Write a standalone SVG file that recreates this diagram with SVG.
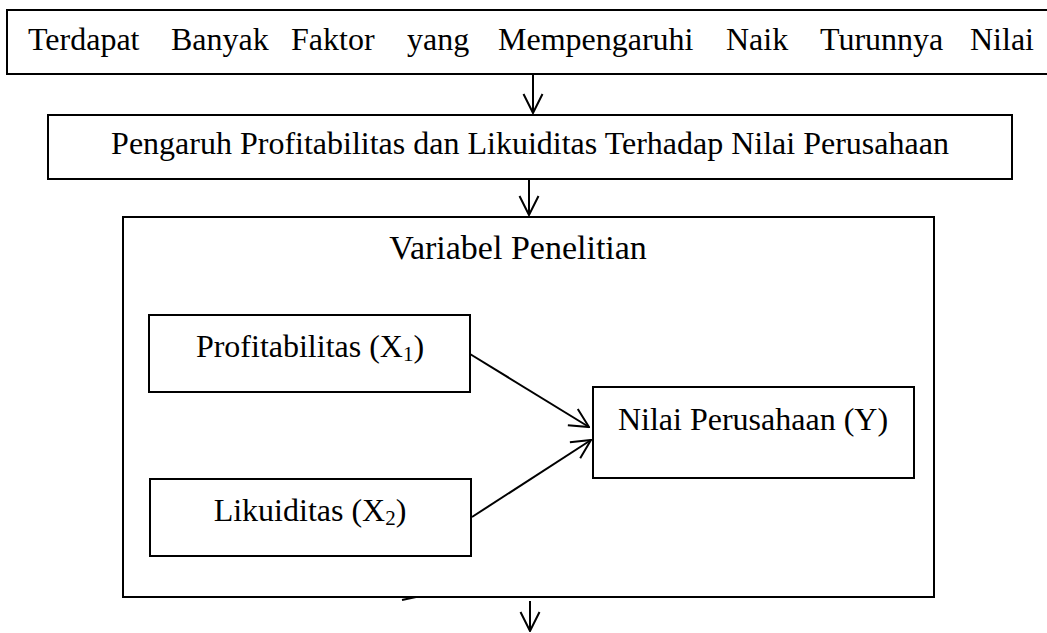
<svg xmlns="http://www.w3.org/2000/svg" width="1047" height="633" viewBox="0 0 1047 633">
<style>
.box{fill:#fff;stroke:#000;stroke-width:2}
.t{font-family:"Liberation Serif","Times New Roman",serif;font-size:32px;fill:#000}
.sub{font-size:21px}
.c{fill:none;stroke:#000;stroke-width:2}
</style>
<defs>
<marker id="arr" viewBox="0 0 22 22" refX="21" refY="11" markerWidth="22" markerHeight="22" markerUnits="userSpaceOnUse" orient="auto">
<path d="M2,1.5 L21,11 L2,20.5" fill="none" stroke="#000" stroke-width="2"/>
</marker>
</defs>
<rect width="1047" height="633" fill="#fff"/>
<g id="node-top">
<rect class="box" x="7" y="10" width="1060" height="64"/>
<text class="t" y="50"><tspan x="28">Terdapat</tspan><tspan x="171">Banyak</tspan><tspan x="291">Faktor</tspan><tspan x="407">yang</tspan><tspan x="498">Mempengaruhi</tspan><tspan x="726">Naik</tspan><tspan x="820">Turunnya</tspan><tspan x="970">Nilai</tspan></text>
</g>
<g id="node-pengaruh">
<rect class="box" x="48" y="115" width="964" height="64"/>
<text class="t" x="530" y="154" text-anchor="middle">Pengaruh Profitabilitas dan Likuiditas Terhadap Nilai Perusahaan</text>
</g>
<g id="node-variabel">
<rect class="box" x="123" y="217" width="811" height="380"/>
<text class="t" x="518" y="259" text-anchor="middle" style="font-size:34px">Variabel Penelitian</text>
</g>
<g id="node-x1">
<rect class="box" x="149" y="315" width="321" height="77"/>
<text class="t" x="310" y="357" text-anchor="middle">Profitabilitas (X<tspan class="sub" dy="4">1</tspan><tspan dy="-4">)</tspan></text>
</g>
<g id="node-x2">
<rect class="box" x="150" y="479" width="321" height="77"/>
<text class="t" x="310" y="521" text-anchor="middle">Likuiditas (X<tspan class="sub" dy="4">2</tspan><tspan dy="-4">)</tspan></text>
</g>
<g id="node-y">
<rect class="box" x="593" y="387" width="321" height="91"/>
<text class="t" x="753" y="430" text-anchor="middle">Nilai Perusahaan (Y)</text>
</g>
<g id="connectors">
<line class="c" x1="533" y1="74" x2="533" y2="113" marker-end="url(#arr)"/>
<line class="c" x1="529" y1="179" x2="529" y2="215" marker-end="url(#arr)"/>
<line class="c" x1="470" y1="354" x2="589" y2="427" marker-end="url(#arr)"/>
<line class="c" x1="472" y1="517" x2="591" y2="440" marker-end="url(#arr)"/>
<line class="c" x1="530" y1="601" x2="530" y2="631" marker-end="url(#arr)"/>
<line class="c" x1="402" y1="600" x2="416" y2="597"/>
</g>
</svg>
